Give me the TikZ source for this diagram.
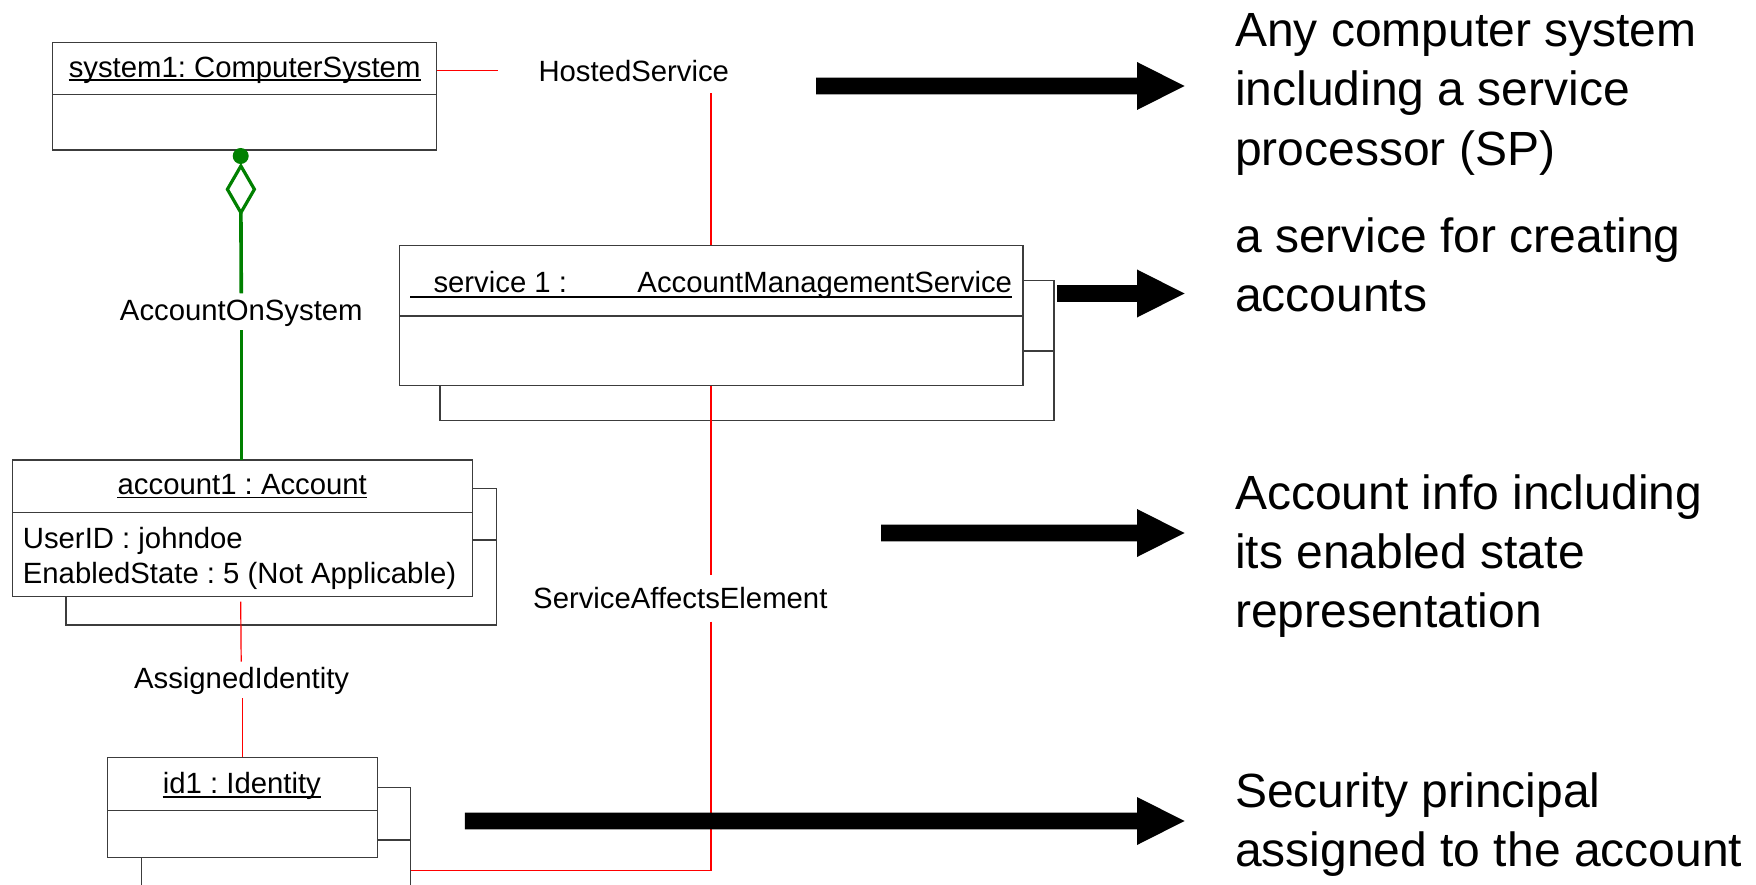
\documentclass[tikz,border=0pt]{standalone}
\usepackage{fontspec}
\setmainfont{Liberation Sans}
\usetikzlibrary{calc}
\definecolor{umlgreen}{RGB}{0,128,0}
\definecolor{boxgray}{RGB}{60,60,60}
\newcommand\FatArrow[2]{%
  \fill[black] (#1,#2-8.3) -- (1137,#2-8.3) -- (1137,#2-24) -- (1184.5,#2)
     -- (1137,#2+24) -- (1137,#2+8.3) -- (#1,#2+8.3) -- cycle;}
\frenchspacing
\begin{document}
\begin{tikzpicture}[x=1pt,y=-1pt,
  box/.style={draw=boxgray, line width=1.5pt, fill=white, inner sep=0pt, outer sep=0pt, anchor=north west},
  divider/.style={draw=boxgray, line width=1.5pt},
  uline/.style={draw=black, line width=1.8pt},
  lbl/.style={inner sep=0pt, font=\fontsize{29.3}{35}\selectfont},
  big/.style={inner sep=0pt, anchor=base west, font=\fontsize{48}{59}\selectfont},
  assoc/.style={draw=red, line width=1.2pt},
  agg/.style={draw=umlgreen, line width=3.6pt}]
\useasboundingbox (0,0) rectangle (1756,885);
\clip (0,0) rectangle (1756,885);

% ---------- object boxes ----------
\node[box, minimum width=384.2pt, minimum height=107.4pt] (sys) at (52.5,42.6) {};
\draw[divider] ($(sys.north west)+(0,51.9)$) -- ($(sys.north east)+(0,51.9)$);

\node[box, minimum width=614pt, minimum height=140pt] (svcB) at (440,280.7) {};
\draw[divider] ($(svcB.north west)+(0,70.3)$) -- ($(svcB.north east)+(0,70.3)$);
\node[box, minimum width=623.4pt, minimum height=140.4pt] (svc) at (399.6,245.3) {};
\draw[divider] ($(svc.north west)+(0,70.7)$) -- ($(svc.north east)+(0,70.7)$);

\node[box, minimum width=430.7pt, minimum height=136.7pt] (accB) at (66,488.3) {};
\draw[divider] ($(accB.north west)+(0,51.7)$) -- ($(accB.north east)+(0,51.7)$);
\node[box, minimum width=460.4pt, minimum height=136.7pt] (acc) at (12.3,460) {};
\draw[divider] ($(acc.north west)+(0,52.3)$) -- ($(acc.north east)+(0,52.3)$);

\node[box, minimum width=269pt, minimum height=140pt] (idB) at (141.7,787.7) {};
\draw[divider] ($(idB.north west)+(0,52.3)$) -- ($(idB.north east)+(0,52.3)$);
\node[box, minimum width=269.6pt, minimum height=100pt] (id) at (107.7,757.3) {};
\draw[divider] ($(id.north west)+(0,53.4)$) -- ($(id.north east)+(0,53.4)$);

% ---------- box texts ----------
\node[lbl, anchor=base] (systitle) at (244.6,77.3) {system1: ComputerSystem};
\draw[uline] ([yshift=-3pt]systitle.base west) -- ([yshift=-3pt]systitle.base east);

\node[lbl, anchor=base west] (svctitle) at (410,292.7)
  {\hspace*{23.3pt}service 1 :\hspace*{70.5pt}AccountManagementService};
\draw[uline] ([yshift=-4pt]svctitle.base west) -- ([yshift=-4pt]svctitle.base east);

\node[lbl, anchor=base] (acctitle) at (242.3,494.5) {account1 : Account};
\draw[uline] ([yshift=-3pt]acctitle.base west) -- ([yshift=-3pt]acctitle.base east);
\node[lbl, anchor=base west] (accattr1) at (22.7,548.3) {UserID : johndoe};
\node[lbl, anchor=base west] (accattr2) at (22.7,583.3) {EnabledState : 5 (Not Applicable)};

\node[lbl, anchor=base] (idtitle) at (241.9,793.3) {id1 : Identity};
\draw[uline] ([yshift=-4pt]idtitle.base west) -- ([yshift=-4pt]idtitle.base east);

% ---------- association labels ----------
\node[lbl, anchor=base west] (hosted) at (538.3,81.7) {HostedService};
\node[lbl, anchor=base] (aos) at (241.3,320.5) {AccountOnSystem};
\node[lbl, anchor=base] (assigned) at (241.6,688.3) {AssignedIdentity};
\node[lbl, anchor=base west] (sae) at (533,608.5) {ServiceAffectsElement};

% ---------- connector end points ----------
\coordinate (hsL) at (498,70.3);
\coordinate (hsT) at (711,93.3);
\coordinate (saeT) at (711,575);
\coordinate (saeB) at (711,621.7);
\coordinate (saeC) at (711,870.7);
\coordinate (aiT) at (241.2,661.7);
\coordinate (aiB) at (242.3,698);
\coordinate (aosT) at (241.3,293.3);
\coordinate (aosB) at (241.3,330);
\coordinate (dTop) at (240.9,166);
\coordinate (dBot) at (240.9,212.7);

% ---------- associations (red) ----------
\draw[assoc] ($(sys.north east)+(0,27.7)$) -- (hsL);
\draw[assoc] (hsT) -- (svc.north -| hsT);
\draw[assoc] (svc.south -| hsT) -- (saeT);
\draw[assoc] (saeB) -- (saeC) -- (idB.east |- saeC);
\draw[assoc] ($(acc.south)+(-1.8,5)$) -- (aiT);
\draw[assoc] (aiB) -- (id.north -| aiB);

% ---------- aggregation (green) ----------
\fill[umlgreen] (240.7,156) circle[radius=8];
\draw[umlgreen, line width=3.2pt, line join=miter]
  (dTop) -- (227.4,189.3) -- (dBot) -- (254.4,189.3) -- cycle;
\draw[agg] (dBot) -- (aosT);
\draw[agg] (aosB) -- (acc.north -| aosB);

% ---------- fat arrows ----------
\FatArrow{816}{86}
\FatArrow{1057}{293.5}
\FatArrow{881}{533}
\FatArrow{464.8}{821}

% ---------- descriptions ----------
\node[big] (d1a) at (1235,46.7) {Any computer system};
\node[big] (d1b) at (1235,106) {including a service};
\node[big] (d1c) at (1235,165.3) {processor (SP)};
\node[big] (d2a) at (1235,253) {a service for creating};
\node[big] (d2b) at (1235,312) {accounts};
\node[big] (d3a) at (1235,509) {Account info including};
\node[big] (d3b) at (1235,568) {its enabled state};
\node[big] (d3c) at (1235,627) {representation};
\node[big] (d4a) at (1235,807) {Security principal};
\node[big] (d4b) at (1235,866) {assigned to the account};
\end{tikzpicture}
\end{document}
